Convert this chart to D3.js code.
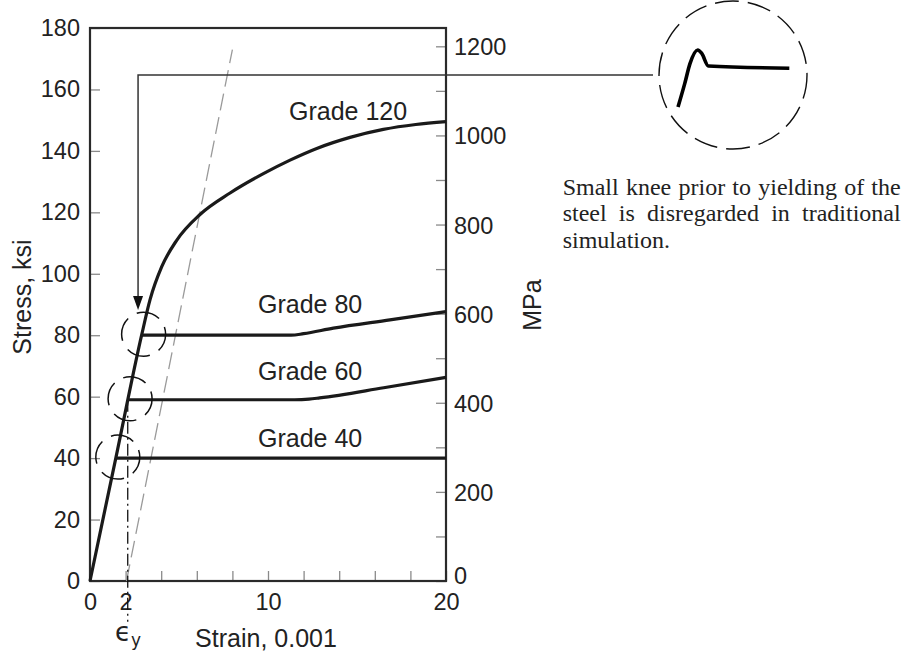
<!DOCTYPE html>
<html>
<head>
<meta charset="utf-8">
<script src="https://cdn.jsdelivr.net/npm/d3@7"></script>
<style>
  body { margin: 0; background: #fff; }
  text { font-family: "Liberation Sans", Arial, Helvetica, sans-serif; fill: #222; }
</style>
</head>
<body>
<svg id="chart" width="902" height="653"></svg>
<script>
// stress-strain curves of reinforcing steel (strain in 0.001, stress in ksi)
var grade40Strain = [0, 1.45, 20];
var grade40Stress = [0, 40, 40];

var grade60Strain = [0, 2.14, 11.5, 12.3, 12.9, 16.5, 20];
var grade60Stress = [0, 59, 59, 59.2, 59.6, 62.9, 66.3];

var grade80Strain = [0, 2.9, 11.3, 12.0, 13.67, 16.85, 20];
var grade80Stress = [0, 80, 80, 80.5, 82.3, 85.0, 87.7];

var grade120Strain = [0, 1.45, 2.9, 3.37, 4.03, 4.87, 6.18, 7.87, 9.74, 11.24, 12.74, 14.61, 16.48, 18.3, 20];
var grade120Stress = [0, 40, 80, 91.5, 102.3, 110.9, 119.3, 126.3, 132.6, 137.0, 140.8, 144.4, 147.0, 148.6, 149.5];

var gradeNames = ["Grade 40", "Grade 60", "Grade 80", "Grade 120"];

// offset line parallel to the elastic branch, and yield strain marker
var offsetStrain = [2.05, 8.0];
var offsetStress = [0, 173];
var yieldStrain = 2.12;

// axis ticks
var strainTicks = [0, 2, 4, 6, 8, 10, 12, 14, 16, 18, 20];
var strainLabels = [0, 2, 10, 20];
var stressTicks = [0, 20, 40, 60, 80, 100, 120, 140, 160, 180];
var mpaTicks = [0, 100, 200, 300, 400, 500, 600, 700, 800, 900, 1000, 1100, 1200];

// inset: small knee before yielding (arbitrary units)
var kneeStrain = [0, 0.6, 1.07, 1.76, 2.12, 2.71, 9.94];
var kneeStress = [0, 4.1, 7.6, 10, 9.4, 7.2, 6.8];

var noteLines = [
  "Small knee prior to yielding of the",
  "steel is disregarded in traditional",
  "simulation."
];

var svg = d3.select("#chart");

var x = d3.scaleLinear().domain([0, 20]).range([90, 446]);
var y = d3.scaleLinear().domain([0, 180]).range([581, 28]);
var yMpa = d3.scaleLinear().domain([0, 180 * 6.895]).range([581, 28]);

function pts(s, t) {
  return s.map(function (d, i) { return [d, t[i]]; });
}

// axes
var xAxis = svg.append("g")
  .attr("transform", "translate(0,581)")
  .call(d3.axisBottom(x).tickValues(strainTicks).tickSize(-10).tickSizeOuter(0).tickPadding(12)
    .tickFormat(function (d) { return strainLabels.indexOf(d) >= 0 ? d : ""; }));

var yAxis = svg.append("g")
  .attr("transform", "translate(90,0)")
  .call(d3.axisLeft(y).tickValues(stressTicks).tickSize(-10).tickSizeOuter(0).tickPadding(10));

var rAxis = svg.append("g")
  .attr("transform", "translate(446,0)")
  .call(d3.axisRight(yMpa).tickValues(mpaTicks).tickSize(-10).tickSizeOuter(0).tickPadding(8)
    .tickFormat(function (d) { return d % 200 === 0 ? d : ""; }));

[xAxis, yAxis, rAxis].forEach(function (g) {
  g.select(".domain").remove();
  g.selectAll(".tick line").attr("stroke", "#8a8a8a").attr("stroke-width", 1.3);
  g.selectAll(".tick text").attr("fill", "#222").style("font-size", "23.5px")
    .style("font-family", "'Liberation Sans', Arial, sans-serif");
});
rAxis.selectAll(".tick text").attr("dy", function (d) { return d === 0 ? "0.12em" : "0.36em"; });

// plot frame
svg.append("rect")
  .attr("x", x(0)).attr("y", y(180))
  .attr("width", x(20) - x(0)).attr("height", y(0) - y(180))
  .attr("fill", "none").attr("stroke", "#2a2a2a").attr("stroke-width", 2.2);

// offset dashed line
svg.append("path")
  .attr("d", d3.line().x(function (d) { return x(d[0]); }).y(function (d) { return y(d[1]); })(pts(offsetStrain, offsetStress)))
  .attr("fill", "none").attr("stroke", "#9a9a9a").attr("stroke-width", 1.3)
  .attr("stroke-dasharray", "17,7");

// yield strain dash-dot marker
svg.append("line")
  .attr("x1", x(yieldStrain)).attr("x2", x(yieldStrain))
  .attr("y1", y(59)).attr("y2", y(-13.3))
  .attr("stroke", "#111").attr("stroke-width", 1.3)
  .attr("stroke-dasharray", "12,4,2,4");

// curves
var curve = d3.line()
  .x(function (d) { return x(d[0]); })
  .y(function (d) { return y(d[1]); })
  .curve(d3.curveMonotoneX);

// Grade 120 path carries the shared elastic branch
svg.append("path")
  .attr("d", curve(pts(grade120Strain, grade120Stress)))
  .attr("fill", "none").attr("stroke", "#1a1a1a").attr("stroke-width", 3.2);

[[grade40Strain, grade40Stress], [grade60Strain, grade60Stress], [grade80Strain, grade80Stress]]
  .forEach(function (g) {
    svg.append("path")
      .attr("d", curve(pts(g[0], g[1]).slice(1)))
      .attr("fill", "none").attr("stroke", "#1a1a1a").attr("stroke-width", 3.2);
  });

// dashed circles around the yield points
[[grade40Strain[1], grade40Stress[1]], [grade60Strain[1], grade60Stress[1]], [grade80Strain[1], grade80Stress[1]]]
  .forEach(function (p) {
    svg.append("circle")
      .attr("cx", x(p[0]) + 2).attr("cy", y(p[1]) - 1).attr("r", 22)
      .attr("fill", "none").attr("stroke", "#111").attr("stroke-width", 1.5)
      .attr("stroke-dasharray", "24,10").attr("stroke-dashoffset", 6);
  });

// grade labels
var labelAt = [[9.44, 43.5], [9.44, 65.4], [9.44, 87.2], [11.18, 150.1]];
gradeNames.forEach(function (n, i) {
  svg.append("text")
    .attr("x", x(labelAt[i][0])).attr("y", y(labelAt[i][1]))
    .style("font-size", "25px")
    .text(n);
});

// axis titles
svg.append("text")
  .attr("transform", "translate(31,297) rotate(-90)")
  .attr("text-anchor", "middle").style("font-size", "25px")
  .text("Stress, ksi");

svg.append("text")
  .attr("transform", "translate(541,305) rotate(-90)")
  .attr("text-anchor", "middle").style("font-size", "25px")
  .text("MPa");

svg.append("text")
  .attr("x", 266).attr("y", 647)
  .attr("text-anchor", "middle").style("font-size", "25px")
  .text("Strain, 0.001");

var eps = svg.append("text")
  .attr("x", 115).attr("y", 641)
  .style("font-family", "'DejaVu Sans', 'Noto Sans', sans-serif")
  .style("font-size", "26px");
eps.append("tspan").text("\u03f5");
eps.append("tspan").attr("dy", 5).style("font-size", "17px").text("y");

// inset with the small knee
var insetCx = 733, insetCy = 75, insetR = 74;
svg.append("circle")
  .attr("cx", insetCx).attr("cy", insetCy).attr("r", insetR)
  .attr("fill", "none").attr("stroke", "#111").attr("stroke-width", 1.4)
  .attr("stroke-dasharray", "24,9");

var kx = d3.scaleLinear().domain([0, 10]).range([678, 790]);
var ky = d3.scaleLinear().domain([0, 10]).range([107, 50]);
svg.append("path")
  .attr("d", d3.line().x(function (d) { return kx(d[0]); }).y(function (d) { return ky(d[1]); })
    .curve(d3.curveMonotoneX)(pts(kneeStrain, kneeStress)))
  .attr("fill", "none").attr("stroke", "#000").attr("stroke-width", 3.6)
  .attr("stroke-linejoin", "round");

// leader arrow from inset to Grade 80 yield point
var arrowX = x(2.7), arrowY = insetCy, tipY = 310;
svg.append("path")
  .attr("d", "M" + (insetCx - insetR - 6) + "," + arrowY + "H" + arrowX + "V" + (tipY - 13))
  .attr("fill", "none").attr("stroke", "#333").attr("stroke-width", 1.5);
svg.append("path")
  .attr("d", "M" + (arrowX - 5) + "," + (tipY - 14) + "L" + (arrowX + 5) + "," + (tipY - 14) + "L" + arrowX + "," + tipY + "Z")
  .attr("fill", "#111");

// justified note text
var noteLeft = 562.7, noteRight = 900.7, noteBase = [194.5, 221, 247.5];
noteLines.forEach(function (line, li) {
  var words = line.split(" ");
  var nodes = words.map(function (w) {
    return svg.append("text")
      .attr("y", noteBase[li])
      .style("font-family", "'Liberation Serif', 'Times New Roman', serif")
      .style("font-size", "24px")
      .text(w);
  });
  var widths = nodes.map(function (n) { return n.node().getComputedTextLength(); });
  var total = d3.sum(widths);
  var gap = (li < noteLines.length - 1 && words.length > 1)
    ? (noteRight - noteLeft - total) / (words.length - 1) : 6;
  var cx = noteLeft;
  nodes.forEach(function (n, i) {
    n.attr("x", cx);
    cx += widths[i] + gap;
  });
});
</script>
</body>
</html>
